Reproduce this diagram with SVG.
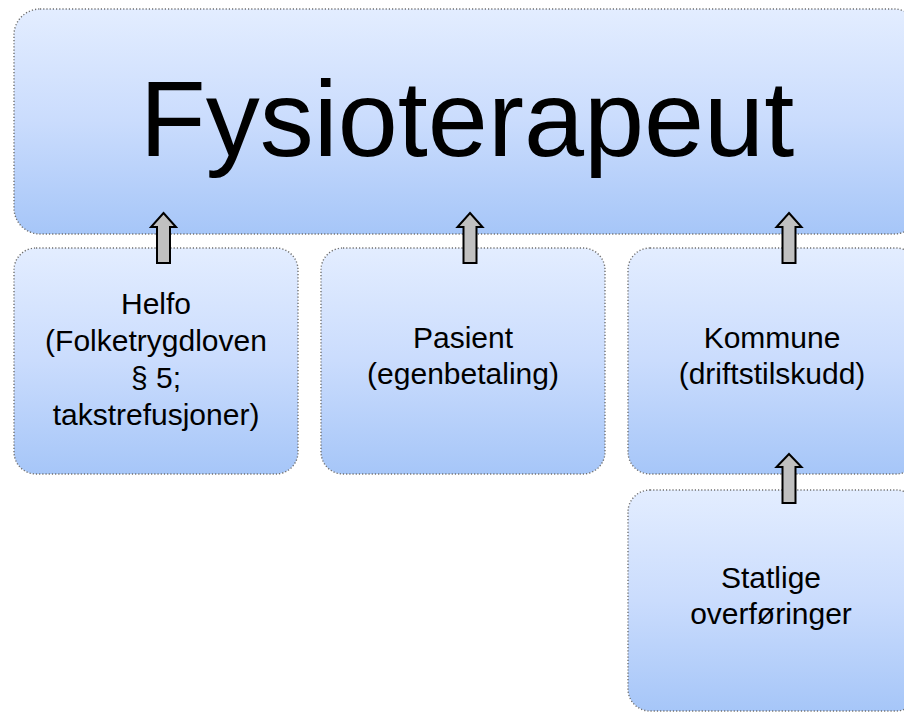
<svg xmlns="http://www.w3.org/2000/svg" width="904" height="713" viewBox="0 0 904 713">
<defs>
<linearGradient id="g" x1="0" y1="0" x2="0" y2="1">
<stop offset="0" stop-color="#e3edff"/>
<stop offset="0.5" stop-color="#cadcfd"/>
<stop offset="1" stop-color="#a6c6f8"/>
</linearGradient>
<style>
.box{fill:url(#g);stroke:#6f6f6f;stroke-width:1.4;stroke-dasharray:1.2 2;}
.t{font-family:"Liberation Sans",Arial,sans-serif;fill:#000;text-anchor:middle;}
.s{font-size:30px;}
.arr{fill:#c0c0c0;stroke:#000;stroke-width:2;stroke-linejoin:miter;}
</style>
</defs>
<rect width="904" height="713" fill="#ffffff"/>
<g id="fysioterapeut">
<rect class="box" x="14" y="9" width="906" height="225" rx="26"/>
<text class="t" x="467" y="156" font-size="108">Fysioterapeut</text>
</g>
<g id="helfo">
<rect class="box" x="14" y="248" width="284" height="226" rx="22"/>
<text class="t s" x="156" y="314">Helfo</text>
<text class="t s" x="156" y="351">(Folketrygdloven</text>
<text class="t s" x="156" y="388">§ 5;</text>
<text class="t s" x="156" y="425">takstrefusjoner)</text>
</g>
<g id="pasient">
<rect class="box" x="321" y="248" width="284" height="226" rx="22"/>
<text class="t s" x="463" y="348">Pasient</text>
<text class="t s" x="463" y="384">(egenbetaling)</text>
</g>
<g id="kommune">
<rect class="box" x="628" y="248" width="290" height="226" rx="22"/>
<text class="t s" x="772" y="348">Kommune</text>
<text class="t s" x="772" y="384">(driftstilskudd)</text>
</g>
<g id="statlige">
<rect class="box" x="628" y="490" width="290" height="221" rx="22"/>
<text class="t s" x="771" y="588">Statlige</text>
<text class="t s" x="771" y="624">overføringer</text>
</g>
<g id="connectors">
<path class="arr" d="M163.5 213 L176 227 L170 227 L170 263 L157 263 L157 227 L151 227 Z"/>
<path class="arr" d="M470 213 L482.5 227 L476.5 227 L476.5 263 L463.5 263 L463.5 227 L457.5 227 Z"/>
<path class="arr" d="M789 213 L801.5 227 L795.5 227 L795.5 263 L782.5 263 L782.5 227 L776.5 227 Z"/>
<path class="arr" d="M789 454 L801.5 467 L795.5 467 L795.5 503 L782.5 503 L782.5 467 L776.5 467 Z"/>
</g>
</svg>
